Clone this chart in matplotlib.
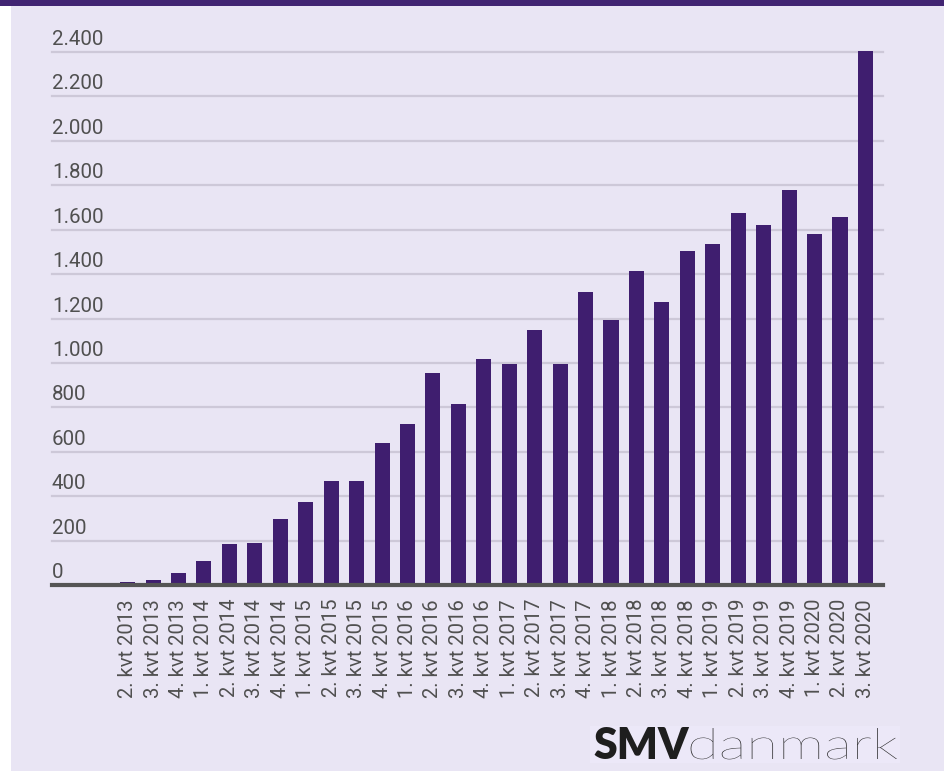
import matplotlib
matplotlib.use("Agg")
import matplotlib.pyplot as plt
from matplotlib.patches import Rectangle, PathPatch
from matplotlib.textpath import TextPath
from matplotlib.font_manager import FontProperties
import matplotlib.transforms as mtransforms

# data
quarters = ["2. kvt 2013", "3. kvt 2013", "4. kvt 2013",
            "1. kvt 2014", "2. kvt 2014", "3. kvt 2014", "4. kvt 2014",
            "1. kvt 2015", "2. kvt 2015", "3. kvt 2015", "4. kvt 2015",
            "1. kvt 2016", "2. kvt 2016", "3. kvt 2016", "4. kvt 2016",
            "1. kvt 2017", "2. kvt 2017", "3. kvt 2017", "4. kvt 2017",
            "1. kvt 2018", "2. kvt 2018", "3. kvt 2018", "4. kvt 2018",
            "1. kvt 2019", "2. kvt 2019", "3. kvt 2019", "4. kvt 2019",
            "1. kvt 2020", "2. kvt 2020", "3. kvt 2020"]
values = [12, 22, 53, 107, 183, 190, 299, 374, 467, 467, 641,
          725, 955, 817, 1017, 994, 1146, 994, 1321,
          1191, 1413, 1275, 1505, 1536, 1673, 1619, 1779,
          1581, 1656, 2405]
y_ticks = [0, 200, 400, 600, 800, 1000, 1200, 1400, 1600, 1800, 2000, 2200, 2400]
y_tick_labels = ["0", "200", "400", "600", "800", "1.000", "1.200", "1.400",
                 "1.600", "1.800", "2.000", "2.200", "2.400"]

BG = "#E9E5F4"
BAR = "#3F1E6F"
TEXT = "#505050"

W, H = 944, 771
fig = plt.figure(figsize=(W / 100, H / 100), dpi=100)
fig.patch.set_facecolor(BG)

# white strip on the left and purple band on top
fig.patches.append(Rectangle((0, 0), 11 / W, 1, transform=fig.transFigure,
                             facecolor="white", edgecolor="none", zorder=0))
fig.patches.append(Rectangle((0, (H - 6) / H), 1, 6 / H, transform=fig.transFigure,
                             facecolor="#412472", edgecolor="none", zorder=0))

ax_left, ax_right = 52 / W, 883 / W
ax_bottom, ax_top = (H - 585) / H, (H - 52) / H
ax = fig.add_axes([ax_left, ax_bottom, ax_right - ax_left, ax_top - ax_bottom])
ax.set_facecolor(BG)

x = list(range(len(quarters)))
ax.bar(x, values, width=0.59, color=BAR, zorder=3, clip_on=False)

ax.set_xlim(-2.97, len(quarters) - 1 + 0.69)
ax.set_ylim(0, 2400)

for v in y_ticks[1:]:
    ax.axhline(v, color="#CDC8D8", lw=1.6, zorder=1, clip_on=False)
ax.axhline(0, color="#555555", lw=3, zorder=4, clip_on=False)

trans = mtransforms.blended_transform_factory(ax.transAxes, ax.transData)
for v, lab in zip(y_ticks, y_tick_labels):
    ax.annotate(lab, xy=(0, v), xycoords=trans, xytext=(0, 3), textcoords="offset pixels",
                ha="left", va="bottom", fontsize=14.8, color=TEXT, family="Roboto")

for s in ax.spines.values():
    s.set_visible(False)
ax.set_yticks([])
ax.set_xticks(x)
ax.set_xticklabels(quarters, rotation=90, fontsize=14.6, color=TEXT, family="Roboto")
ax.tick_params(axis="x", length=0, pad=10)

# logo
fig.patches.append(Rectangle((590 / W, (H - 763) / H), 310 / W, 37 / H,
                             transform=fig.transFigure, facecolor="#ECE8F8",
                             edgecolor="none", zorder=0))
base_px = H - 759
t1 = fig.text(593 / W, base_px / H, "SMV", fontsize=31, fontweight="heavy",
              family="Lato", color="#1E1E1E", ha="left", va="baseline")
fig.canvas.draw()
x0 = t1.get_window_extent().x1 + 2

# "danmark" drawn as a widened path to mimic the wide, thin logo type
tp = TextPath((0, 0), "danmark", size=1, prop=FontProperties(family="Lato", weight="light"))
ext = tp.get_extents()
sx = (897 - x0) / ext.width
sy = 43.0
logo_tr = mtransforms.Affine2D().translate(-ext.x0, 0).scale(sx, sy).translate(x0, base_px)
fig.patches.append(PathPatch(tp, transform=logo_tr, facecolor="#1E1E1E",
                             edgecolor="none", zorder=2))

fig.savefig("out.png", dpi=100, facecolor=fig.get_facecolor())
